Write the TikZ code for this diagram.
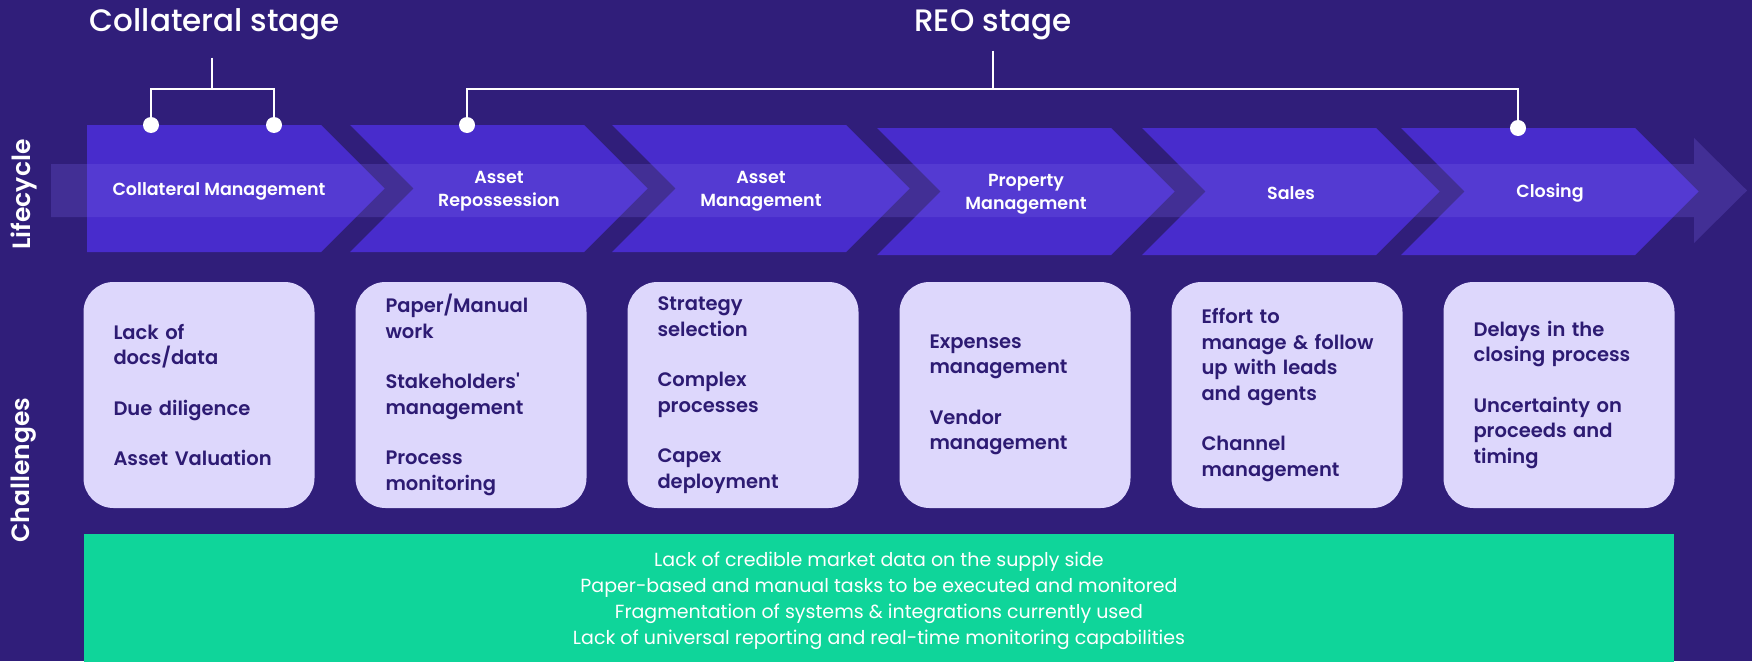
\documentclass[tikz,border=0pt]{standalone}
\usepackage{fontspec}
\setmainfont{Poppins}
\newfontfamily\titlefont{Poppins}[UprightFont=* Medium]
\newfontfamily\semifont{Poppins}[UprightFont=* SemiBold]
\usepackage{tikz}
\usetikzlibrary{positioning}
\definecolor{bgpurple}{RGB}{48,30,122}
\definecolor{chevblue}{RGB}{72,44,204}
\definecolor{bandlilac}{RGB}{120,100,230}
\definecolor{boxlilac}{RGB}{221,215,252}
\definecolor{boxink}{RGB}{45,27,115}
\definecolor{mintgreen}{RGB}{15,213,154}
\tikzset{
chevron/.style={fill=chevblue}, % body of one lifecycle arrow
band/.style={fill=bandlilac, fill opacity=0.25}, % long see-through arrow over the stages
stagename/.style={text=white, align=center, font=\semifont\fontsize{17.5}{23}\selectfont}, % text inside the arrows
sidetitle/.style={text=white, rotate=90, font=\semifont\fontsize{25}{30}\selectfont}, % row names on the left
stagetitle/.style={text=white, inner sep=0pt, font=\titlefont\fontsize{31}{38}\selectfont}, % titles on top
painbox/.style={fill=boxlilac, text=boxink, rounded corners=30pt, minimum width=231pt, minimum height=226pt,
  text width=171pt, inner xsep=30pt, outer sep=0pt, align=left,
  font=\semifont\fontsize{19.5}{25.5}\selectfont}, % challenge cards
greenbox/.style={fill=mintgreen, text=white, minimum width=1590pt, minimum height=134pt, align=center,
  font=\fontsize{19}{26}\selectfont}, % common challenges, runs off the bottom edge
joint/.style={circle, fill=white, minimum size=16pt, inner sep=0pt}, % end dots of the brackets
bracket/.style={draw=white, line width=2.5pt}, % stage brackets
}

\begin{document}
\begin{tikzpicture}[x=1pt, y=-1pt]
        \fill[bgpurple] (0,0) rectangle (1752,661);
        \useasboundingbox (0,0) rectangle (1752,661);

        % lifecycle arrows
        \fill[chevron] (87,125) -- ++(234,0) -- ++(63.5,63.5) -- ++(-63.5,63.5) -- ++(-234,0) -- cycle;
        \fill[chevron] (350,125) -- ++(234,0) -- ++(63.5,63.5) -- ++(-63.5,63.5) -- ++(-234,0) -- ++(63.5,-63.5) -- cycle;
        \fill[chevron] (612,125) -- ++(234,0) -- ++(63.5,63.5) -- ++(-63.5,63.5) -- ++(-234,0) -- ++(63.5,-63.5) -- cycle;
        \fill[chevron] (877,128) -- ++(234,0) -- ++(63.5,63.5) -- ++(-63.5,63.5) -- ++(-234,0) -- ++(63.5,-63.5) -- cycle;
        \fill[chevron] (1142,128) -- ++(234,0) -- ++(63.5,63.5) -- ++(-63.5,63.5) -- ++(-234,0) -- ++(63.5,-63.5) -- cycle;
        \fill[chevron] (1401,128) -- ++(234,0) -- ++(63.5,63.5) -- ++(-63.5,63.5) -- ++(-234,0) -- ++(63.5,-63.5) -- cycle;
        \fill[band] (51,164) -- (1694,164) -- (1694,138) -- (1747,190.5) -- (1694,243) -- (1694,217) -- (51,217) -- cycle;

        \node[stagename] (colmgmt) at (219,191.5) {Collateral Management};
        \node[stagename] (repo) at (499,191) {Asset\\Repossession};
        \node[stagename] (assetmgmt) at (761,191) {Asset\\Management};
        \node[stagename] (propmgmt) at (1026,194) {Property\\Management};
        \node[stagename] (sales) at (1291,193) {Sales};
        \node[stagename] (closing) at (1550,193.5) {Closing};

        \node[sidetitle] (life) at (24,194.5) {Lifecycle};
        \node[sidetitle] (chal) at (24,470) {Challenges};

        % challenge cards
        \node[painbox] (pain1) at (199,395) {Lack of\\docs/data\\[25pt]Due diligence\\[25pt]\mbox{Asset Valuation}};
        \node[painbox, right=41pt of pain1] (pain2) {Paper/Manual\\work\\[25pt]Stakeholders\textquotesingle\\management\\[25pt]Process\\monitoring};
        \node[painbox, right=41pt of pain2] (pain3) {Strategy\\selection\\[25pt]Complex\\processes\\[25pt]Capex\\deployment};
        \node[painbox, right=41pt of pain3] (pain4) {Expenses\\management\\[25pt]Vendor\\management};
        \node[painbox, right=41pt of pain4] (pain5) {Effort to\\\mbox{manage \& follow}\\\mbox{up with leads}\\and agents\\[25pt]Channel\\management};
        \node[painbox, right=41pt of pain5] (pain6) {\mbox{Delays in the}\\\mbox{closing process}\\[25pt]\mbox{Uncertainty on}\\proceeds and\\timing};

        \node[greenbox] (common) at (879,601) {Lack of credible market data on the supply side\\
          Paper-based and manual tasks to be executed and monitored\\
          Fragmentation of systems \& integrations currently used\\
          Lack of universal reporting and real-time monitoring capabilities};

        % stage brackets
        \node[stagetitle, anchor=base] (colstage) at (215,32) {Collateral stage};
        \node[stagetitle, anchor=base] (reostage) at (993,32) {REO stage};
        \node[joint] (c1) at (151,125) {};
        \node[joint] (c2) at (274,125) {};
        \node[joint] (r1) at (467,125) {};
        \node[joint] (r2) at (1518,128) {};
        \coordinate (cbar) at (212,89);
        \coordinate (rbar) at (993,89);

        \draw[bracket] (cbar |- colstage.south) ++(0,17) -- (cbar);
        \draw[bracket] (c1) |- (cbar) -| (c2);
        \draw[bracket] (rbar |- reostage.south) ++(0,10) -- (rbar);
        \draw[bracket] (r1) |- (rbar) -| (r2);
\end{tikzpicture}
\end{document}
